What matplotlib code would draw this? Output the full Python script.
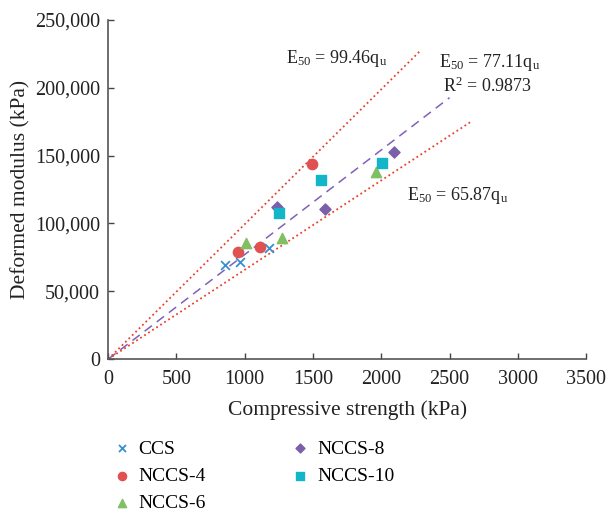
import numpy as np
import matplotlib.pyplot as plt
from matplotlib.ticker import FuncFormatter

plt.rcParams['font.family'] = ['Liberation Serif', 'DejaVu Serif']
plt.rcParams['mathtext.fontset'] = 'custom'
plt.rcParams['mathtext.rm'] = 'Liberation Serif'
plt.rcParams['mathtext.it'] = 'Liberation Serif'

# compressive strength (kPa) and deformed modulus (kPa) per group
ccs_q = [855, 965, 1177]
ccs_e = [69300, 71500, 81900]
n4_q = [950, 1111, 1491]
n4_e = [78900, 82600, 143800]
n6_q = [1009, 1272, 1959]
n6_e = [85500, 89200, 137900]
n8_q = [1235, 1586, 2090]
n8_e = [112000, 110600, 152600]
n10_q = [1250, 1557, 2003]
n10_e = [107700, 132000, 144500]

# fitted slopes and line extents
k_up, k_fit, k_low = 99.46, 77.11, 65.87
q_up, q_fit, q_low = 2290, 2500, 2655
r2 = 0.9873

fig = plt.figure(figsize=(6.08, 5.13), dpi=100)
ax = fig.add_axes([0.178, 0.300, 0.786, 0.661])

x = np.array([0, q_up])
ax.plot(x, k_up * x, ':', color='#e8402c', lw=1.3, zorder=1)
x = np.array([0, q_fit])
ax.plot(x, k_fit * x, '--', color='#8061b8', lw=1.1, dashes=(6, 4), zorder=1)
x = np.array([0, q_low])
ax.plot(x, k_low * x, ':', color='#e8402c', lw=1.3, zorder=1)

ax.scatter(ccs_q, ccs_e, marker='x', s=40, color='#3a8fd0', lw=1.3, label='CCS', zorder=3)
ax.scatter(n4_q, n4_e, marker='o', s=55, color='#e05252', label='NCCS-4', zorder=3)
ax.scatter(n6_q, n6_e, marker='^', s=55, color='#80c062', label='NCCS-6', zorder=3)
ax.scatter(n8_q, n8_e, marker='D', s=32, color='#7b5fa8', label='NCCS-8', zorder=3)
ax.scatter(n10_q, n10_e, marker='s', s=55, color='#12b6c8', label='NCCS-10', zorder=3)

ax.set_xlim(0, 3500)
ax.set_ylim(0, 250000)
ax.set_xticks(np.arange(0, 3501, 500))
ax.set_yticks(np.arange(0, 250001, 50000))
ax.yaxis.set_major_formatter(FuncFormatter(lambda v, p: f'{int(v):,}'))
ax.tick_params(direction='in', length=4, width=1, colors='#444444', labelcolor='#222222',
               labelsize=14.5)
ax.tick_params(axis='x', pad=8)
ax.tick_params(axis='y', pad=6)
for s in ['top', 'right']:
    ax.spines[s].set_visible(False)
for s in ['left', 'bottom']:
    ax.spines[s].set_color('#555555')
    ax.spines[s].set_linewidth(1.2)

ax.set_xlabel('Compressive strength (kPa)', fontsize=15.5, color='#222222', labelpad=8)
ax.set_ylabel('Deformed modulus (kPa)', fontsize=15.5, color='#222222', labelpad=3)

tk = dict(fontsize=13, color='#222222')
ax.text(1300, 218000, r'E$_{50}$ = 99.46q$_\mathrm{u}$', **tk)
ax.text(2420, 215500, r'E$_{50}$ = 77.11q$_\mathrm{u}$', **tk)
ax.text(2450, 197000, r'R$^2$ = ' + f'{r2}', **tk)
ax.text(2190, 117000, r'E$_{50}$ = 65.87q$_\mathrm{u}$', **tk)

# two-column legend under the axes
fig.legend(ncol=2, loc='upper left', bbox_to_anchor=(0.178, 0.150),
           frameon=False, fontsize=14, columnspacing=4.35, handlelength=1.0,
           handletextpad=0.36, labelspacing=0.5, borderaxespad=0,
           borderpad=0.2, markerscale=0.8)

fig.savefig('out.png', dpi=100)
